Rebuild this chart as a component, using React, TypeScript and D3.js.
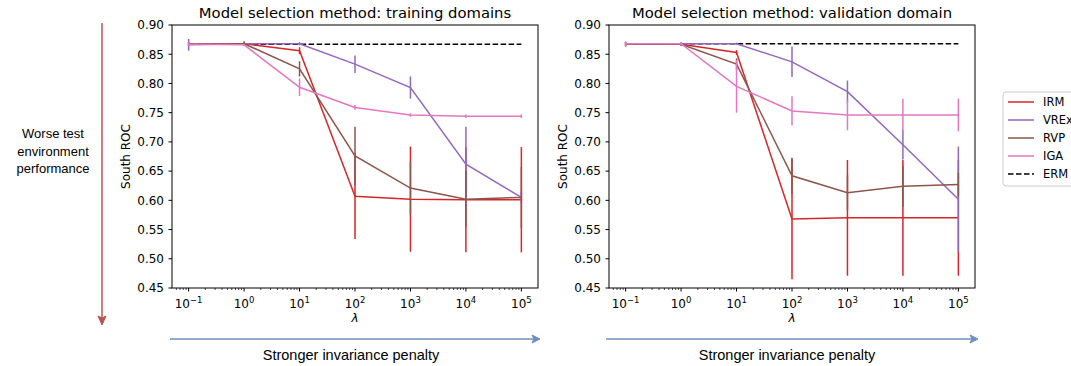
import React from "react";
import * as d3 from "d3";

const lambdas = [0.1, 1, 10, 100, 1000, 10000, 100000];
const seriesNames = ["IRM", "VREx", "RVP", "IGA"];
const seriesColors = ["#d62728", "#9467bd", "#8c564b", "#e377c2"];

const trainERM = 0.867;
const trainIRM = [0.867, 0.868, 0.856, 0.607, 0.602, 0.601, 0.601];
const trainIRMErr = [0.003, 0.002, 0.006, 0.073, 0.09, 0.09, 0.09];
const trainVREx = [0.866, 0.868, 0.868, 0.833, 0.793, 0.662, 0.605];
const trainVRExErr = [0.01, 0.002, 0.003, 0.015, 0.019, 0.064, 0.01];
const trainRVP = [0.867, 0.868, 0.825, 0.676, 0.621, 0.602, 0.605];
const trainRVPErr = [0.003, 0.004, 0.013, 0.05, 0.045, 0.048, 0.052];
const trainIGA = [0.867, 0.866, 0.7935, 0.759, 0.746, 0.744, 0.744];
const trainIGAErr = [0.003, 0.002, 0.015, 0.004, 0.003, 0.003, 0.003];

const valERM = 0.868;
const valIRM = [0.867, 0.867, 0.853, 0.568, 0.57, 0.57, 0.57];
const valIRMErr = [0.003, 0.002, 0.004, 0.103, 0.099, 0.099, 0.099];
const valVREx = [0.868, 0.868, 0.868, 0.837, 0.786, 0.695, 0.602];
const valVRExErr = [0.002, 0.002, 0.002, 0.026, 0.019, 0.025, 0.09];
const valRVP = [0.867, 0.867, 0.833, 0.642, 0.613, 0.624, 0.627];
const valRVPErr = [0.004, 0.003, 0.01, 0.031, 0.03, 0.035, 0.02];
const valIGA = [0.868, 0.868, 0.795, 0.753, 0.746, 0.746, 0.746];
const valIGAErr = [0.004, 0.003, 0.045, 0.025, 0.026, 0.028, 0.028];

const yTicks = [0.45, 0.5, 0.55, 0.6, 0.65, 0.7, 0.75, 0.8, 0.85, 0.9];
const xTickExps = [-1, 0, 1, 2, 3, 4, 5];

const titles = [
  "Model selection method: training domains",
  "Model selection method: validation domain",
];

const PW = 366;
const PH = 263;
const TOP = 25;
const FONT = "DejaVu Sans, sans-serif";
const SANS = "Liberation Sans, Arial, sans-serif";

function Panel({ x0, title, erm, vals, errs }) {
  const xs = d3.scaleLog().domain([10 ** -1.3, 10 ** 5.3]).range([0, PW]);
  const ys = d3.scaleLinear().domain([0.45, 0.9]).range([PH, 0]);
  const line = d3
    .line<[number, number]>()
    .x((d) => xs(d[0]))
    .y((d) => ys(d[1]));
  const minor: number[] = [];
  for (let k = -2; k <= 5; k++) {
    for (let m = 2; m <= 9; m++) {
      const v = m * 10 ** k;
      if (v > 10 ** -1.3 && v < 10 ** 5.3) minor.push(v);
    }
  }
  return (
    <g transform={`translate(${x0},${TOP})`}>
      <text x={PW / 2} y={-7} textAnchor="middle" fontSize={14.8} fontFamily={FONT} fill="#000">
        {title}
      </text>
      <path
        d={line([
          [lambdas[0], erm],
          [lambdas[lambdas.length - 1], erm],
        ])}
        stroke="#000"
        strokeWidth={1.5}
        strokeDasharray="5.5,2.5"
        fill="none"
      />
      {vals.map((v, si) => (
        <g key={si}>
          <path
            d={line(lambdas.map((l, i) => [l, v[i]] as [number, number]))}
            stroke={seriesColors[si]}
            strokeWidth={1.5}
            fill="none"
          />
          {lambdas.map((l, i) => (
            <line
              key={i}
              x1={xs(l)}
              x2={xs(l)}
              y1={ys(v[i] - errs[si][i])}
              y2={ys(v[i] + errs[si][i])}
              stroke={seriesColors[si]}
              strokeWidth={1.5}
            />
          ))}
        </g>
      ))}
      <rect x={0} y={0} width={PW} height={PH} fill="none" stroke="#000" strokeWidth={1} />
      {yTicks.map((t) => (
        <g key={t}>
          <line x1={-3.5} x2={0} y1={ys(t)} y2={ys(t)} stroke="#000" />
          <text
            x={-8}
            y={ys(t)}
            dy="0.36em"
            textAnchor="end"
            fontSize={12}
            fontFamily={FONT}
            fill="#000"
          >
            {t.toFixed(2)}
          </text>
        </g>
      ))}
      {minor.map((m, i) => (
        <line key={i} x1={xs(m)} x2={xs(m)} y1={PH} y2={PH + 2} stroke="#000" strokeWidth={0.7} />
      ))}
      {xTickExps.map((e) => (
        <g key={e}>
          <line x1={xs(10 ** e)} x2={xs(10 ** e)} y1={PH} y2={PH + 3.5} stroke="#000" />
          <text
            x={xs(10 ** e)}
            y={PH + 20}
            textAnchor="middle"
            fontSize={12}
            fontFamily={FONT}
            fill="#000"
          >
            10
            <tspan dy={-5} fontSize={8.5}>
              {e < 0 ? "\u2212" + Math.abs(e) : String(e)}
            </tspan>
          </text>
        </g>
      ))}
      <text
        x={PW / 2}
        y={PH + 34}
        textAnchor="middle"
        fontSize={12}
        fontStyle="italic"
        fontFamily={FONT}
        fill="#000"
      >
        λ
      </text>
      <text
        transform={`translate(${-42},${PH / 2}) rotate(-90)`}
        textAnchor="middle"
        fontSize={12}
        fontFamily={FONT}
        fill="#000"
      >
        South ROC
      </text>
    </g>
  );
}

export default function App() {
  const trainVals = [trainIRM, trainVREx, trainRVP, trainIGA];
  const trainErrs = [trainIRMErr, trainVRExErr, trainRVPErr, trainIGAErr];
  const valVals = [valIRM, valVREx, valRVP, valIGA];
  const valErrs = [valIRMErr, valVRExErr, valRVPErr, valIGAErr];
  const legendItems = [...seriesNames, "ERM"];
  const legendColors = [...seriesColors, "#000"];
  const red = "#b85450";
  const blue = "#6c8ebf";
  return (
    <svg
      width={1071}
      height={366}
      style={{ position: "absolute", left: 0, top: 0, background: "#fff" }}
    >
      <rect x={0} y={0} width={1071} height={366} fill="#fff" />
      <Panel x0={172} title={titles[0]} erm={trainERM} vals={trainVals} errs={trainErrs} />
      <Panel x0={609} title={titles[1]} erm={valERM} vals={valVals} errs={valErrs} />

      {/* legend */}
      <rect x={1003} y={92} width={90} height={94} rx={3} fill="#fff" stroke="#ccc" strokeWidth={1} />
      {legendItems.map((n, i) => (
        <g key={n}>
          <line
            x1={1008}
            x2={1034}
            y1={102 + i * 18}
            y2={102 + i * 18}
            stroke={legendColors[i]}
            strokeWidth={1.5}
            strokeDasharray={n === "ERM" ? "5.5,2.5" : undefined}
          />
          <text
            x={1043}
            y={102 + i * 18}
            dy="0.36em"
            fontSize={11.5}
            fontFamily={FONT}
            fill="#000"
          >
            {n}
          </text>
        </g>
      ))}

      {/* left annotation */}
      <line x1={102} x2={102} y1={23} y2={318} stroke={red} strokeWidth={1.5} />
      <path d="M98,316 L102,325 L106,316 L102,318 Z" fill={red} stroke={red} />
      {["Worse test", "environment", "performance"].map((t, i) => (
        <text
          key={t}
          x={53}
          y={138 + i * 17.5}
          textAnchor="middle"
          fontSize={13}
          fontFamily={SANS}
          fill="#000"
        >
          {t}
        </text>
      ))}

      {/* bottom arrows */}
      {[
        [170, 540, 351],
        [606, 978, 787],
      ].map(([a, b, c], i) => (
        <g key={i}>
          <line x1={a} x2={b - 6} y1={339} y2={339} stroke={blue} strokeWidth={1.5} />
          <path d={`M${b - 8},335 L${b},339 L${b - 8},343 L${b - 6},339 Z`} fill={blue} stroke={blue} />
          <text
            x={c}
            y={360}
            textAnchor="middle"
            fontSize={14.5}
            fontFamily={SANS}
            fill="#000"
          >
            Stronger invariance penalty
          </text>
        </g>
      ))}
    </svg>
  );
}
